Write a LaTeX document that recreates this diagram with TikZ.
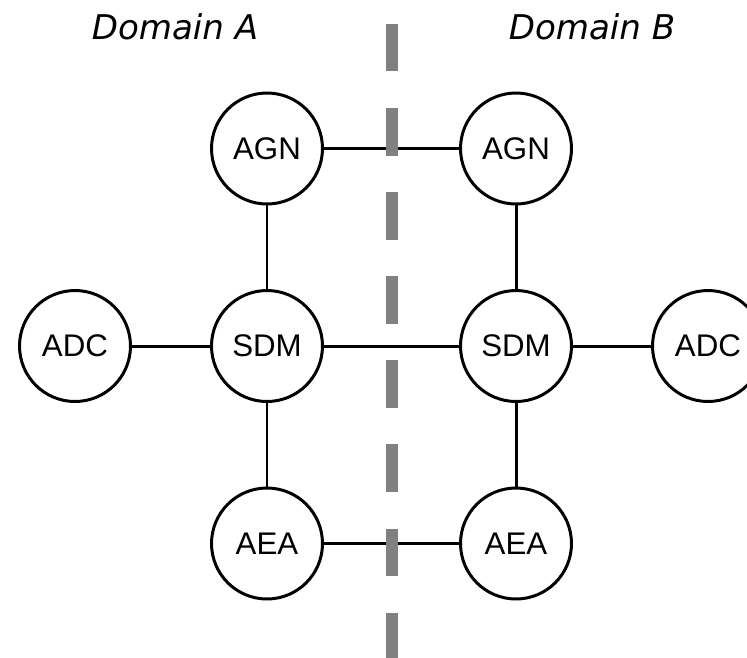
\documentclass[tikz,border=0pt]{standalone}
\usepackage{fontspec}
\setmainfont{Liberation Sans}
\newfontfamily\titlefont{DejaVu Sans}
\begin{document}
\begin{tikzpicture}[x=0.02cm,y=-0.02cm,
        unit/.style={draw,circle,line width=1.7pt,minimum size=2.22cm,inner sep=0pt,font=\fontsize{17.8}{20}\selectfont},
        link/.style={line width=1.7pt},
        border/.style={line width=6.8pt,draw=gray,dash pattern=on 0.95cm off 0.732cm},
        domtitle/.style={anchor=base,font=\titlefont\itshape\fontsize{19.4}{22}\selectfont}]
        \useasboundingbox (0,0) rectangle (747,657);
        \clip (0,0) rectangle (747,657);
        % titles
        \node[domtitle] (domA) at (175,39) {Domain A};
        \node[domtitle] (domB) at (592,39) {Domain B};
        % domain A
        \node[unit] (agnA) at (267,148.5) {AGN};
        \node[unit] (sdmA) at (267,346) {SDM};
        \node[unit] (adcA) at (75,346) {ADC};
        \node[unit] (aeaA) at (267,543.5) {AEA};
        % domain B
        \node[unit] (agnB) at (516,148.5) {AGN};
        \node[unit] (sdmB) at (516,346) {SDM};
        \node[unit] (adcB) at (708,346) {ADC};
        \node[unit] (aeaB) at (516,543.5) {AEA};
        % lines
        \draw[link] (agnA) -- (sdmA);\draw[link] (sdmA) -- (aeaA);\draw[link] (adcA) -- (sdmA);
        \draw[link] (agnB) -- (sdmB);\draw[link] (sdmB) -- (aeaB);\draw[link] (sdmB) -- (adcB);
        \draw[link] (agnA) -- (agnB);\draw[link] (sdmA) -- (sdmB);\draw[link] (aeaA) -- (aeaB);
        % border
        \coordinate (top) at (391.7,24);\coordinate (bot) at (391.7,670);
        \draw[border] (top) -- (bot);
\end{tikzpicture}
\end{document}
